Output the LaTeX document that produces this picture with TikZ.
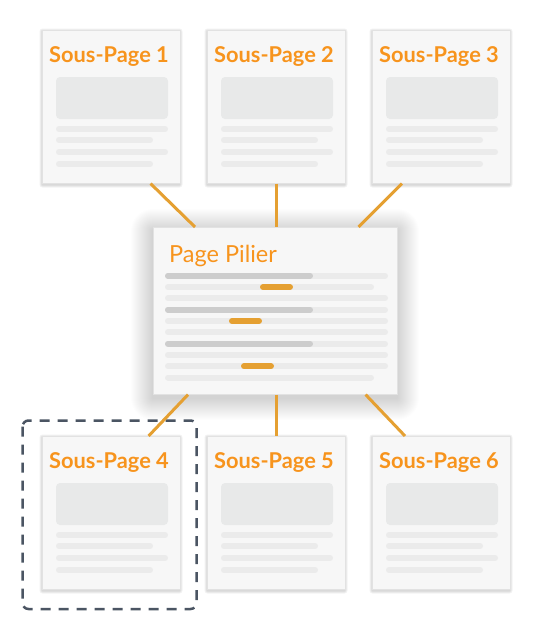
\documentclass[tikz,border=0pt]{standalone}
\usepackage{fontspec}
\setmainfont{Lato}
\definecolor{orng}{HTML}{F7941D}
\definecolor{conn}{HTML}{E5A032}
\definecolor{pagefill}{HTML}{F7F7F7}
\definecolor{pageedge}{HTML}{E2E2E2}
\definecolor{blockgray}{HTML}{E8E9E9}
\definecolor{linegray}{HTML}{EBEBEB}
\definecolor{darkline}{HTML}{CDCDCD}
\definecolor{dashcol}{HTML}{4B5563}
\tikzset{
  page/.style={draw=pageedge, line width=0.6pt, fill=pagefill, minimum width=138pt, minimum height=153pt, anchor=north west, inner sep=0pt},
  pillar/.style={draw=pageedge, line width=0.6pt, fill=pagefill, minimum width=244pt, minimum height=167pt, anchor=north west, inner sep=0pt},
  shadowlayer/.style={fill=black, opacity=0.0065},
  smallshadow/.style={fill=black, opacity=0.05},
  subtitle/.style={text=orng, font=\fontsize{21.8}{24}\selectfont\bfseries, anchor=base west, inner sep=0pt},
  piltitle/.style={text=orng, font=\fontsize{23.5}{26}\selectfont, anchor=base west, inner sep=0pt},
  block/.style={fill=blockgray, rounded corners=4pt},
  txtline/.style={draw=linegray, line width=6pt, line cap=round},
  darkl/.style={draw=darkline, line width=6pt, line cap=round},
  hilite/.style={draw=conn, line width=6pt, line cap=round},
  connector/.style={draw=conn, line width=3pt},
  focus/.style={draw=dashcol, line width=2.5pt, dash pattern=on 10pt off 8pt, rounded corners=6pt}
}
\begin{document}
\begin{tikzpicture}[x=1pt,y=-1pt]
\useasboundingbox (0,0) rectangle (537,641);
\fill[white] (0,0) rectangle (537,641);
% dashed focus box
\draw[focus] (22.5,420.5) rectangle (196.5,609);
% sub-pages
\foreach \n/\x/\y in {1/42/30,2/207/30,3/372/30,4/42/436,5/207/436,6/372/436}{
  \foreach \i in {1,2,3}{
    \fill[smallshadow, rounded corners=\i pt] (\x-\i+0.5,\y-\i+1.5) rectangle (\x+138+\i-0.5,\y+153+\i+1.5);
  }
  \node[page] (p\n) at (\x,\y) {};
  \begin{scope}[shift={(p\n.north west)}]
    \node[subtitle] (t\n) at (7,32) {Sous-Page \n};
    \fill[block] (14,47) rectangle (126,89);
    \draw[txtline] (17,99) -- (123,99);
    \draw[txtline] (17,110) -- (108,110);
    \draw[txtline] (17,122) -- (123,122);
    \draw[txtline] (17,134) -- (108,134);
  \end{scope}
}
% pillar shadow
\foreach \i in {1,...,22}{
  \fill[shadowlayer, rounded corners=\i pt] (153-\i,227-\i+4) rectangle (397+\i,394+\i+4);
}
% pillar page
\node[pillar] (pil) at (153,227) {};
\begin{scope}[shift={(pil.north west)}]
  \node[piltitle] (pt) at (16,35.5) {Page Pilier};
  \foreach \r/\e in {1/232,2/218,3/232,4/232,5/232,6/232,7/232,8/232,9/232,10/218}{
    \draw[txtline] (15,{37.5+11.3*\r}) -- (\e,{37.5+11.3*\r});
  }
  \foreach \r in {1,4,7}{
    \draw[darkl] (15,{37.5+11.3*\r}) -- (157,{37.5+11.3*\r});
  }
  \draw[hilite] (110,{37.5+11.3*2}) -- (137,{37.5+11.3*2});
  \draw[hilite] (79,{37.5+11.3*5}) -- (106,{37.5+11.3*5});
  \draw[hilite] (91,{37.5+11.3*9}) -- (118,{37.5+11.3*9});
\end{scope}
% connectors
\draw[connector] ([xshift=-30pt]p1.south east) -- ([xshift=42pt]pil.north west);
\draw[connector] ([xshift=0pt]p2.south) -- ([xshift=0pt]pil.north west -| p2.south);
\draw[connector] ([xshift=30pt]p3.south west) -- ([xshift=-39pt]pil.north east);
\draw[connector] ([xshift=35pt]pil.south west) -- ([xshift=-32pt]p4.north east);
\draw[connector] (pil.south west -| p5.north) -- (p5.north);
\draw[connector] ([xshift=-32pt]pil.south east) -- ([xshift=33pt]p6.north west);
\end{tikzpicture}
\end{document}
